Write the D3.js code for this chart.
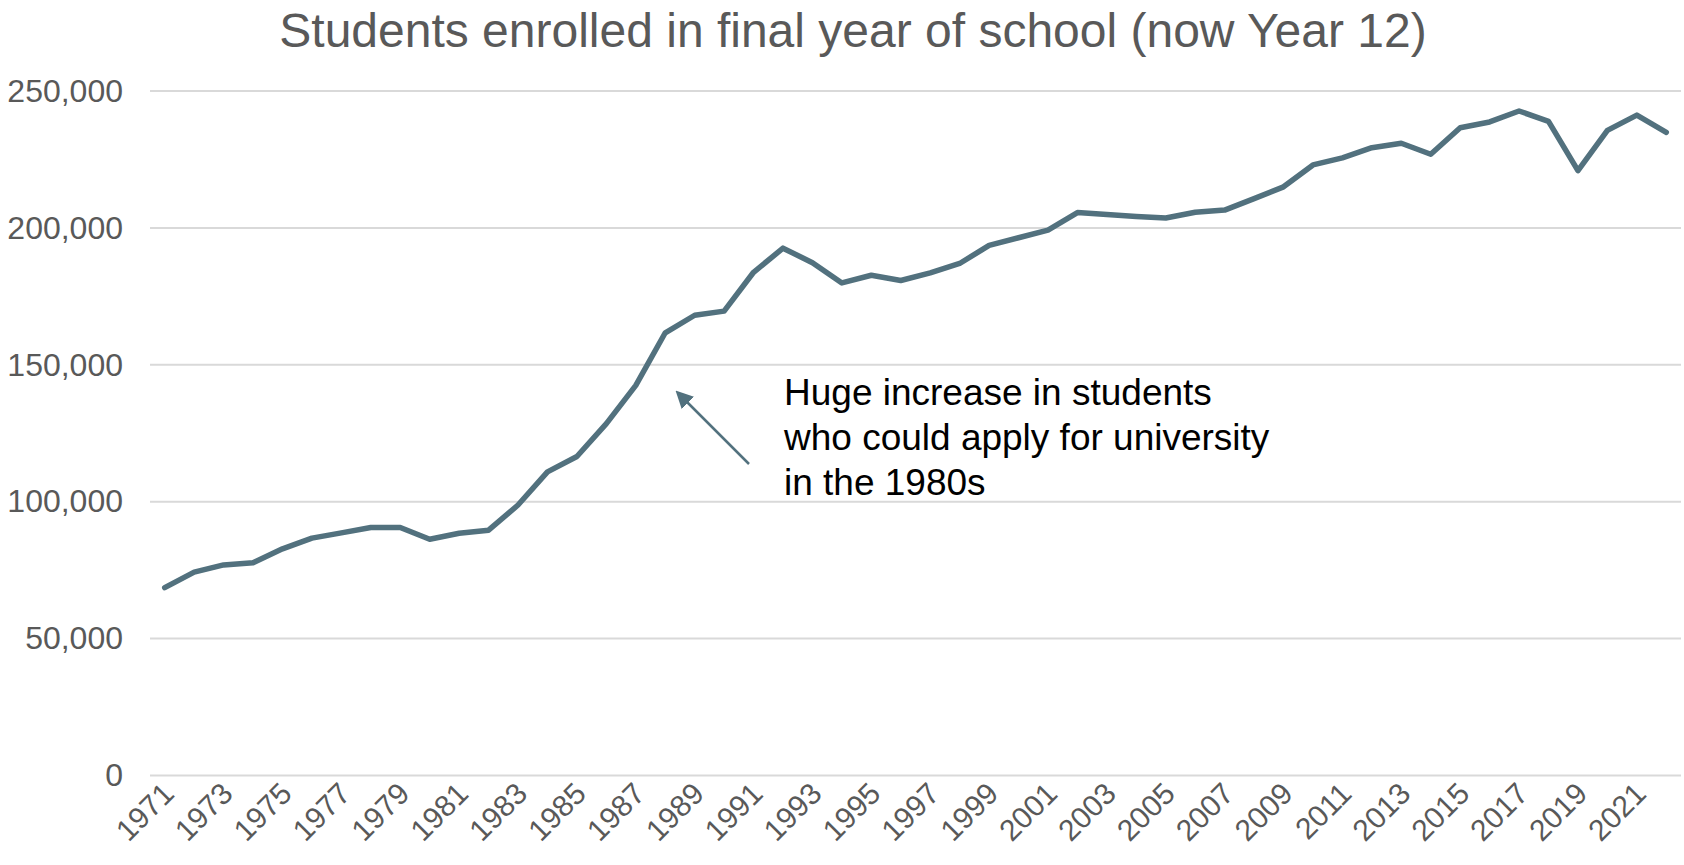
<!DOCTYPE html>
<html>
<head>
<meta charset="utf-8">
<script src="https://cdn.jsdelivr.net/npm/d3@7"></script>
<style>
  html, body { margin: 0; padding: 0; background: #fff; }
  svg { display: block; font-family: "Liberation Sans", Arial, sans-serif; }
</style>
</head>
<body>
<div id="chart"></div>
<script>
// years on the x axis, one value per year
const years = d3.range(1971, 2023);
const students = [
  68600, 74300, 76900, 77700, 82800, 86700, 88600, 90600, 90600, 86300,
  88500, 89600, 98800, 110900, 116500, 128500, 142500, 161700, 168100, 169600,
  183800, 192600, 187300, 179900, 182700, 180800, 183600, 187000, 193600, 196400,
  199200, 205600, 204900, 204200, 203600, 205700, 206500, 210700, 215000, 223000,
  225600, 229300, 230900, 226900, 236600, 238700, 242700, 238900, 220900, 235600,
  241200, 234900
];
const yTicks = [0, 50000, 100000, 150000, 200000, 250000];
const xTickYears = years.filter((d, i) => i % 2 === 0);
const title = "Students enrolled in final year of school (now Year 12)";
const noteLines = ["Huge increase in students", "who could apply for university", "in the 1980s"];

const width = 1684, height = 865;
const margin = {top: 91, right: 3, bottom: 89.5, left: 150};

const svg = d3.select("#chart").append("svg")
  .attr("width", width)
  .attr("height", height);

const x = d3.scaleBand()
  .domain(years)
  .range([margin.left, width - margin.right]);

const y = d3.scaleLinear()
  .domain([0, 250000])
  .range([height - margin.bottom, margin.top]);

// gridlines
svg.append("g")
  .selectAll("line")
  .data(yTicks)
  .join("line")
  .attr("x1", margin.left)
  .attr("x2", width - margin.right)
  .attr("y1", d => y(d))
  .attr("y2", d => y(d))
  .attr("stroke", "#d9d9d9")
  .attr("stroke-width", 2);

// y axis labels
const yAxis = svg.append("g")
  .attr("transform", `translate(${margin.left - 27},0)`)
  .call(d3.axisLeft(y).tickValues(yTicks).tickFormat(d3.format(",")).tickSize(0).tickPadding(0));
yAxis.select(".domain").remove();
yAxis.selectAll("text")
  .attr("fill", "#595959")
  .attr("font-size", 32)
  .attr("font-family", "Liberation Sans, Arial, sans-serif");

// x axis labels, rotated
const xAxis = svg.append("g")
  .attr("transform", `translate(0,${height - margin.bottom})`)
  .call(d3.axisBottom(x).tickValues(xTickYears).tickSize(0).tickPadding(0));
xAxis.select(".domain").remove();
xAxis.selectAll("text")
  .attr("fill", "#595959")
  .attr("font-size", 30)
  .attr("font-family", "Liberation Sans, Arial, sans-serif")
  .attr("text-anchor", "end")
  .attr("dy", 0)
  .attr("transform", "translate(11,20) rotate(-45)");

// the line
const line = d3.line()
  .x((d, i) => x(years[i]) + x.bandwidth() / 2)
  .y(d => y(d));

svg.append("path")
  .datum(students)
  .attr("d", line)
  .attr("fill", "none")
  .attr("stroke", "#52717e")
  .attr("stroke-width", 5.5)
  .attr("stroke-linejoin", "round")
  .attr("stroke-linecap", "round");

// title
svg.append("text")
  .attr("x", 853)
  .attr("y", 47)
  .attr("text-anchor", "middle")
  .attr("fill", "#595959")
  .attr("font-size", 48)
  .text(title);

// annotation arrow
svg.append("defs").append("marker")
  .attr("id", "head")
  .attr("viewBox", "0 0 10 10")
  .attr("refX", 8)
  .attr("refY", 5)
  .attr("markerWidth", 7)
  .attr("markerHeight", 7)
  .attr("orient", "auto")
  .append("path")
  .attr("d", "M0,0 L10,5 L0,10 Z")
  .attr("fill", "#52717e");

svg.append("line")
  .attr("x1", 749).attr("y1", 464)
  .attr("x2", 678).attr("y2", 393)
  .attr("stroke", "#52717e")
  .attr("stroke-width", 2.5)
  .attr("marker-end", "url(#head)");

svg.append("text")
  .attr("x", 784)
  .attr("y", 405)
  .attr("font-size", 37)
  .attr("fill", "#000")
  .selectAll("tspan")
  .data(noteLines)
  .join("tspan")
  .attr("x", 784)
  .attr("dy", (d, i) => i === 0 ? 0 : 45)
  .text(d => d);
</script>
</body>
</html>
